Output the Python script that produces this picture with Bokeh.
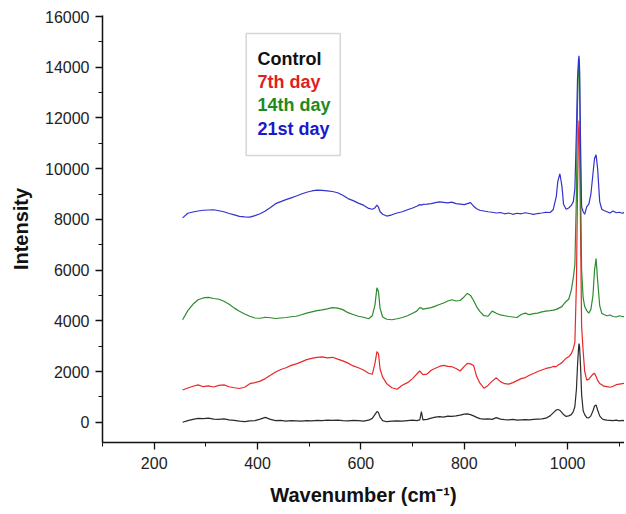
from bokeh.plotting import figure
from bokeh.models import Range1d, SingleIntervalTicker, BoxAnnotation, Label, ColumnDataSource
from bokeh.embed import file_html
from bokeh.resources import INLINE

# ---- data ----
wavenumber = [255, 265, 275, 285, 295, 305, 315, 325, 335, 345,
              355, 365, 375, 385, 395, 405, 415, 425, 435, 445,
              455, 465, 475, 485, 495, 505, 515, 525, 535, 545,
              555, 565, 575, 585, 595, 605, 615, 622, 627, 631,
              634, 637, 642, 650, 660, 670, 680, 690, 700, 708,
              714, 717, 720, 728, 736, 744, 752, 760, 768, 776,
              784, 792, 800, 806, 812, 818, 824, 830, 838, 846,
              854, 862, 870, 878, 886, 894, 902, 910, 918, 926,
              934, 942, 950, 958, 966, 972, 978, 981, 985, 989,
              992, 997, 1002, 1007, 1011, 1014, 1017, 1019, 1021, 1022,
              1023, 1025, 1027, 1030, 1033, 1037, 1041, 1045, 1049, 1052,
              1055, 1058, 1062, 1066, 1070, 1076, 1082, 1088, 1094, 1100,
              1106, 1112]

control = [0, 60, 110, 150, 140, 160, 120, 110, 130, 90,
           70, 40, 20, 50, 60, 120, 190, 110, 60, 70,
           40, 60, 50, 40, 60, 50, 70, 60, 80, 70,
           80, 60, 50, 70, 60, 40, 80, 150, 300, 420,
           380, 200, 60, 20, 40, 50, 40, 60, 80, 60,
           90, 420, 90, 110, 160, 200, 220, 200, 240, 230,
           250, 280, 320, 330, 300, 250, 190, 140, 120, 130,
           110, 180, 120, 100, 90, 110, 80, 90, 100, 90,
           110, 120, 130, 160, 250, 370, 480, 500, 470, 380,
           300, 230, 250, 300, 420, 620, 1300, 2200, 2900, 3100,
           3000, 2200, 1100, 450, 300, 180, 170, 250, 450, 640,
           680, 480, 250, 150, 100, 80, 70, 60, 80, 50,
           70, 60]

day7 = [1270, 1350, 1420, 1470, 1400, 1430, 1390, 1450, 1470, 1400,
        1360, 1330, 1380, 1520, 1560, 1620, 1720, 1850, 1980, 2080,
        2150, 2240, 2300, 2380, 2470, 2520, 2560, 2580, 2540, 2560,
        2490, 2420, 2330, 2220, 2150, 2060, 1930, 1890, 2300, 2780,
        2700, 2100, 1780, 1520, 1360, 1300, 1460, 1560, 1720, 1900,
        2020, 1950, 1880, 1900, 2050, 2130, 2200, 2240, 2200, 2190,
        2120, 2020, 2200, 2320, 2300, 2240, 1800, 1550, 1340, 1450,
        1620, 1750, 1600, 1520, 1500, 1560, 1640, 1720, 1760, 1850,
        1920, 2000, 2060, 2120, 2150, 2200, 2190, 2250, 2300, 2350,
        2420, 2520, 2580, 2700, 2900, 3150, 5500, 9000, 11400, 11900,
        11200, 7500, 3800, 2800, 2000, 1660, 1700, 1800, 1900, 1930,
        1800, 1650, 1530, 1480, 1420, 1400, 1380, 1420, 1480, 1500,
        1520, 1540]

day14 = [4040, 4400, 4650, 4830, 4900, 4920, 4880, 4850, 4770, 4650,
         4500, 4380, 4270, 4180, 4110, 4100, 4140, 4120, 4090, 4110,
         4130, 4160, 4180, 4240, 4300, 4350, 4400, 4430, 4470, 4520,
         4500, 4440, 4320, 4250, 4180, 4140, 4080, 4200, 4600, 5300,
         5150, 4500, 4150, 4060, 4040, 4080, 4130, 4200, 4300, 4380,
         4520, 4500, 4460, 4490, 4520, 4580, 4640, 4700, 4780, 4830,
         4780, 4800, 4950, 5080, 5000, 4800, 4550, 4370, 4200, 4180,
         4380, 4300, 4230, 4200, 4170, 4150, 4130, 4250, 4300, 4240,
         4280, 4300, 4350, 4380, 4400, 4420, 4450, 4480, 4520, 4560,
         4650, 4760, 4850, 5200, 5700, 6200, 9000, 12500, 14000, 14300,
         13800, 9500, 6000, 4900, 4560, 4400, 4300, 4450, 5000, 6000,
         6450, 5600, 4600, 4300, 4250, 4200, 4230, 4170, 4150, 4200,
         4170, 4160]

day21 = [8060, 8240, 8290, 8330, 8360, 8370, 8380, 8340, 8300, 8230,
         8180, 8120, 8100, 8090, 8150, 8220, 8330, 8470, 8620, 8700,
         8780, 8850, 8920, 9000, 9070, 9120, 9150, 9140, 9120, 9100,
         9050, 8950, 8820, 8740, 8640, 8560, 8430, 8400, 8450, 8560,
         8480, 8300, 8200, 8130, 8180, 8250, 8300, 8380, 8450, 8520,
         8580, 8560, 8590, 8600, 8620, 8660, 8690, 8670, 8650, 8680,
         8620, 8600, 8580, 8620, 8660, 8520, 8420, 8360, 8330, 8300,
         8280, 8250, 8270, 8220, 8250, 8200, 8240, 8220, 8260, 8230,
         8200, 8230, 8250, 8280, 8270, 8380, 8900, 9500, 9800, 9300,
         8600, 8400, 8450, 8550, 8700, 9200, 11500, 13500, 14300, 14450,
         14000, 11000, 8500, 8300, 8200, 8500, 8600, 9000, 9800, 10400,
         10550, 10000, 8700, 8400, 8350, 8300, 8250, 8330, 8260, 8280,
         8240, 8300]

series_names = ["Control", "7th day", "14th day", "21st day"]
series_colors = ["#2a2a2a", "#e82828", "#2e8b2e", "#3232cc"]
text_colors = ["#111111", "#e01f1f", "#1f8a1f", "#1a1acc"]

FONT = "Liberation Sans"

p = figure(width=624, height=512, output_backend="svg", toolbar_location=None,
           x_range=Range1d(100, 1110), y_range=Range1d(-800, 16040),
           min_border_left=102, min_border_right=0, min_border_top=15,
           min_border_bottom=70)
p.grid.visible = False
p.outline_line_color = None
p.background_fill_color = "white"

p.xaxis.ticker = SingleIntervalTicker(interval=200, num_minor_ticks=2)
p.yaxis.ticker = SingleIntervalTicker(interval=2000, num_minor_ticks=2)

for ax in (p.xaxis, p.yaxis):
    ax.axis_line_width = 1.5
    ax.axis_line_color = "#111111"
    ax.major_tick_line_color = "#111111"
    ax.minor_tick_line_color = "#111111"
    ax.major_tick_line_width = 1.3
    ax.minor_tick_line_width = 1.0
    ax.major_tick_out = 7
    ax.major_tick_in = 0
    ax.minor_tick_out = 4
    ax.minor_tick_in = 0
    ax.major_label_text_font = FONT
    ax.major_label_text_font_size = "16px"
    ax.major_label_text_color = "#222222"
    ax.axis_label_text_font = FONT
    ax.axis_label_text_font_size = "20px"
    ax.axis_label_text_font_style = "bold"
    ax.axis_label_text_color = "#111111"

p.xaxis.axis_label = "Wavenumber (cm\u207b\u00b9)"
p.yaxis.axis_label = "Intensity"
p.xaxis.major_label_standoff = 7
p.yaxis.major_label_standoff = 6
p.xaxis.axis_label_standoff = 12
p.yaxis.axis_label_standoff = 10

src = ColumnDataSource(dict(x=wavenumber, c=control, d7=day7, d14=day14, d21=day21))
for col, color in zip(["c", "d7", "d14", "d21"], series_colors):
    p.line("x", col, source=src, line_color=color, line_width=1.2)

# legend box with coloured texts
p.add_layout(BoxAnnotation(left=378, right=560, top=15330, bottom=10520,
                           fill_color=None, line_color="#777777", line_width=1.5))
label_y = [14344, 13437, 12491, 11583]
for name, color, yy in zip(series_names, text_colors, label_y):
    p.add_layout(Label(x=400, y=yy, text=name, text_font=FONT, text_font_size="18px",
                       text_font_style="bold", text_color=color,
                       text_baseline="alphabetic"))

open("out.html", "w").write(file_html(p, INLINE))
